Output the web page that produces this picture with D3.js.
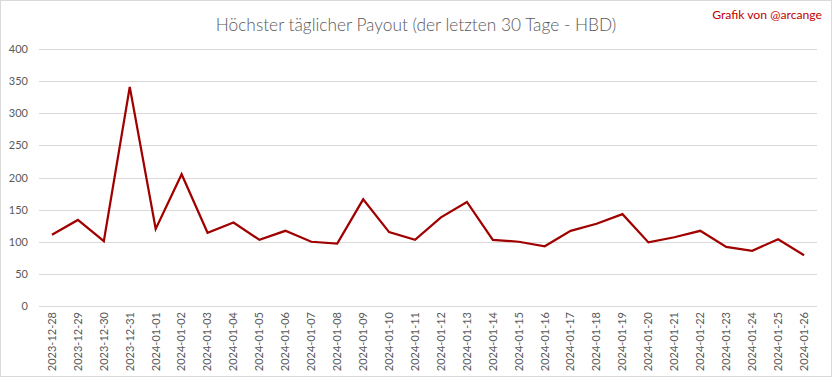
<!DOCTYPE html>
<html><head><meta charset="utf-8">
<script src="https://cdn.jsdelivr.net/npm/d3@7"></script>
<style>html,body{margin:0;padding:0;background:#fff;}svg{display:block;}</style>
</head><body>
<svg id="c" width="833" height="379"></svg>
<script>
const dates = ["2023-12-28","2023-12-29","2023-12-30","2023-12-31","2024-01-01","2024-01-02","2024-01-03","2024-01-04","2024-01-05","2024-01-06","2024-01-07","2024-01-08","2024-01-09","2024-01-10","2024-01-11","2024-01-12","2024-01-13","2024-01-14","2024-01-15","2024-01-16","2024-01-17","2024-01-18","2024-01-19","2024-01-20","2024-01-21","2024-01-22","2024-01-23","2024-01-24","2024-01-25","2024-01-26"];
const payout = [111,134,101,341,120,205,114,130,103,117,100,97,166,115,103,138,162,103,100,93,117,128,143,99,107,117,92,86,104,79];
const yTicks = [0,50,100,150,200,250,300,350,400];
const titleText = "Höchster täglicher Payout (der letzten 30 Tage - HBD)";
const creditText = "Grafik von @arcange";

const svg = d3.select("#c");
const font = "Lato, 'Open Sans', sans-serif";
svg.append("rect").attr("x",0.5).attr("y",0.5).attr("width",831).attr("height",376)
  .attr("fill","#fff").attr("stroke","#d9d9d9");

const x = d3.scaleBand().domain(dates).range([39,817]);
const y = d3.scaleLinear().domain([0,400]).range([306,49]);

const grid = svg.append("g");
grid.selectAll("line").data(yTicks).join("line")
  .attr("x1",39).attr("x2",817)
  .attr("y1",d=>Math.round(y(d))+0.5).attr("y2",d=>Math.round(y(d))+0.5)
  .attr("stroke","#d9d9d9").attr("stroke-width",1);

const yAxis = svg.append("g").attr("transform","translate(39,0)")
  .call(d3.axisLeft(y).tickValues(yTicks).tickSize(0).tickPadding(11));
yAxis.select(".domain").remove();
yAxis.selectAll("text").attr("fill","#595959").attr("font-size",11).attr("font-family",font);

const xAxis = svg.append("g").attr("transform","translate(0,306)")
  .call(d3.axisBottom(x).tickSize(0).tickPadding(0));
xAxis.select(".domain").remove();
xAxis.selectAll("text")
  .attr("transform","rotate(-90)")
  .attr("text-anchor","end").attr("dy","0.35em").attr("x",-6).attr("y",0)
  .attr("fill","#595959").attr("font-size",11).attr("font-family",font);

const line = d3.line().x((d,i)=>x(dates[i])+x.bandwidth()/2).y(d=>y(d));
svg.append("path").datum(payout).attr("d",line)
  .attr("fill","none").attr("stroke","#a00000").attr("stroke-width",2.25)
  .attr("stroke-linejoin","miter");

svg.append("text").attr("x",416).attr("y",31).attr("text-anchor","middle")
  .attr("font-family",font).attr("font-weight",300).attr("font-size",17.3).attr("fill","#595959")
  .text(titleText);
svg.append("text").attr("x",822).attr("y",19).attr("text-anchor","end")
  .attr("font-family",font).attr("font-size",12.2).attr("fill","#c00000")
  .text(creditText);
</script>
</body></html>
